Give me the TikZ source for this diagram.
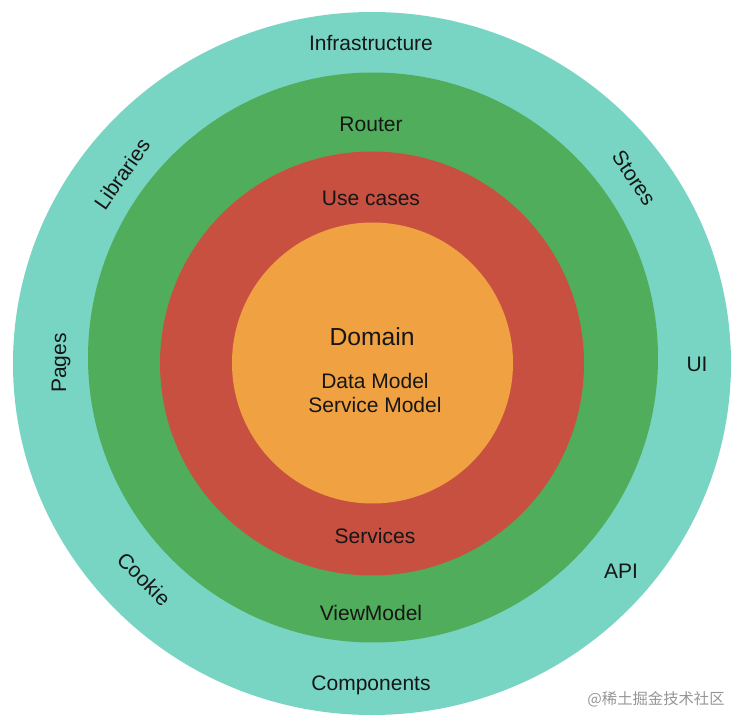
\documentclass[tikz,border=0pt]{standalone}
\usepackage{fontspec}
\setmainfont{Liberation Sans}
\newfontfamily\cjkfont{Noto Sans CJK SC}
\definecolor{teal1}{RGB}{120,213,196}
\definecolor{green1}{RGB}{80,173,92}
\definecolor{red1}{RGB}{200,80,65}
\definecolor{orange1}{RGB}{240,161,66}
\definecolor{txt}{RGB}{22,22,22}
\definecolor{wm}{RGB}{150,150,150}
\tikzset{
  lbl/.style={text=txt, inner sep=0pt, font=\fontsize{15.75}{18}\selectfont},
  big/.style={text=txt, inner sep=0pt, font=\fontsize{18.5}{22}\selectfont},
}
\begin{document}
\begin{tikzpicture}[x=0.75pt,y=-0.75pt]
\useasboundingbox (0,0) rectangle (744,728);
\fill[white] (0,0) rectangle (744,728);
\fill[teal1] (372,363.5) ellipse [x radius=359, y radius=351.5];
\fill[green1] (373,357.5) circle [radius=285];
\fill[red1] (372,363.5) circle [radius=212];
\fill[orange1] (372.5,363) circle [radius=140.5];

\node[lbl] (infra) at (371,43) {Infrastructure};
\node[lbl] (router) at (371,124) {Router};
\node[lbl] (usecases) at (371,198) {Use cases};
\node[big] (domain) at (372,337) {Domain};
\node[lbl] (datamodel) at (375,381) {Data Model};
\node[lbl] (servicemodel) at (375,405) {Service Model};
\node[lbl] (services) at (375,536) {Services};
\node[lbl] (viewmodel) at (371,613) {ViewModel};
\node[lbl] (components) at (371,685) {Components};
\node[lbl, rotate=55] (libraries) at (122,174) {Libraries};
\node[lbl, rotate=90] (pages) at (61,363) {Pages};
\node[lbl, rotate=-56] (stores) at (634,178) {Stores};
\node[lbl] (ui) at (697,364) {UI};
\node[lbl] (api) at (621,571) {API};
\node[lbl, rotate=-45] (cookie) at (144,579) {Cookie};
\node[text=wm, inner sep=0pt, font=\cjkfont\fontsize{11.5}{14}\selectfont] (watermark) at (656,699) {@稀土掘金技术社区};
\end{tikzpicture}
\end{document}
